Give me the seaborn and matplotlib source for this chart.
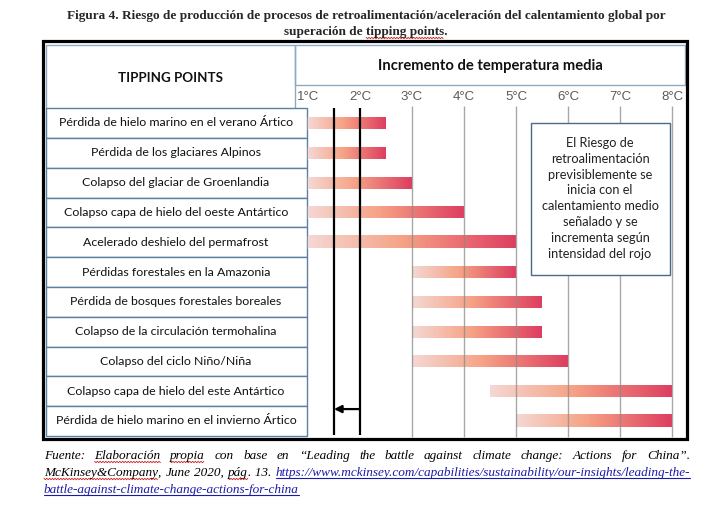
import numpy as np
import matplotlib
matplotlib.use('Agg')
import matplotlib.pyplot as plt
from matplotlib.colors import LinearSegmentedColormap
from matplotlib.patches import Rectangle
import seaborn as sns

# Data
tipping_points = [
    'Pérdida de hielo marino en el verano Ártico',
    'Pérdida de los glaciares Alpinos',
    'Colapso del glaciar de Groenlandia',
    'Colapso capa de hielo del oeste Antártico',
    'Acelerado deshielo del permafrost',
    'Pérdidas forestales en la Amazonia',
    'Pérdida de bosques forestales boreales',
    'Colapso de la circulación termohalina',
    'Colapso del ciclo Niño/Niña',
    'Colapso capa de hielo del este Antártico',
    'Pérdida de hielo marino en el invierno Ártico',
]
start_temp = [1.0, 1.0, 1.0, 1.0, 1.0, 3.0, 3.0, 3.0, 3.0, 4.5, 5.0]
end_temp = [2.5, 2.5, 3.0, 4.0, 5.0, 5.0, 5.5, 5.5, 6.0, 8.0, 8.0]
temp_ticks = [1, 2, 3, 4, 5, 6, 7, 8]
tick_labels = ['1°C', '2°C', '3°C', '4°C', '5°C', '6°C', '7°C', '8°C']
grid_temps = [3, 4, 5, 6, 7, 8]
paris_limits = [1.5, 2.0]

title_lines = [
    'Figura 4. Riesgo de producción de procesos de retroalimentación/aceleración del calentamiento global por',
    'superación de tipping points.',
]
note_lines = ['El Riesgo de', 'retroalimentación', 'previsiblemente se', 'inicia con el',
              'calentamiento medio', 'señalado y se', 'incrementa según', 'intensidad del rojo']
# (word, style): n = normal, s = spell-check underline, l = link
footer_lines = [
    [('Fuente:', 'n'), ('Elaboración', 's'), ('propia', 's'), ('con', 'n'), ('base', 'n'),
     ('en', 'n'), ('“Leading', 'n'), ('the', 'n'), ('battle', 'n'), ('against', 'n'),
     ('climate', 'n'), ('change:', 'n'), ('Actions', 'n'), ('for', 'n'), ('China”.', 'n')],
    [('McKinsey&Company', 's'), (',', 'n'), ('June', 'n'), ('2020,', 'n'), ('pág', 's'), ('. 13.', 'n'),
     ('https://www.mckinsey.com/capabilities/sustainability/our-insights/leading-the-', 'l')],
    [('battle-against-climate-change-actions-for-china', 'l')],
]

sns.set_theme(style='white')
plt.rcParams['font.family'] = ['Lato', 'DejaVu Sans']
serif = ['Liberation Serif', 'DejaVu Serif']

W, H = 714, 505
fig = plt.figure(figsize=(W / 100, H / 100), dpi=100)
fig.patch.set_facecolor('white')
bg = fig.add_axes([0, 0, 1, 1])
bg.set_xlim(0, W)
bg.set_ylim(H, 0)
bg.axis('off')
renderer = fig.canvas.get_renderer()


def width_px(s, size, **kw):
    t = bg.text(0, 0, s, fontsize=size, **kw)
    w = t.get_window_extent(renderer).width
    t.remove()
    return w


def fit(s, target, **kw):
    return 10 * target / width_px(s, 10, **kw)


def squiggle(x0, x1, y):
    xs = np.arange(x0, x1, 1.4)
    ys = y + np.where(np.arange(len(xs)) % 2 == 0, -0.7, 0.7)
    bg.plot(xs, ys, color='#d02020', lw=0.6)


# title
ts = fit(title_lines[0], 601, family=serif, weight='bold')
bg.text(366, 16, title_lines[0], ha='center', va='center', fontsize=ts, family=serif, weight='bold')
bg.text(366, 32, title_lines[1], ha='center', va='center', fontsize=ts, family=serif, weight='bold')
w2 = width_px(title_lines[1], ts, family=serif, weight='bold')
pre = width_px('superación de ', ts, family=serif, weight='bold')
sq0 = 366 - w2 / 2 + pre
squiggle(sq0, sq0 + width_px('tipping points', ts, family=serif, weight='bold'), 38)

# header boxes
head_col = '#8ea9c1'
bg.add_patch(Rectangle((46, 45), 249, 64, fill=False, ec=head_col, lw=1))
bg.add_patch(Rectangle((295, 45), 390, 40, fill=False, ec=head_col, lw=1))
hs = fit('TIPPING POINTS', 104, weight='bold')
bg.text(170, 78, 'TIPPING POINTS', ha='center', va='center', fontsize=hs, weight='bold', color='#111')
bg.text(490, 66, 'Incremento de temperatura media', ha='center', va='center',
        fontsize=fit('Incremento de temperatura media', 225, weight='bold'), weight='bold', color='#111')

# row label boxes
row_y0, row_h = 123.0, 29.8
ls = fit(max(tipping_points, key=len), 243)
for i, name in enumerate(tipping_points):
    yc = row_y0 + row_h * i
    bg.add_patch(Rectangle((46, yc - row_h / 2), 261, row_h, fc='white', ec='#5d7fa3', lw=1))
    bg.text(176, yc, name, ha='center', va='center', fontsize=ls, color='#111')

# chart axes
ax = fig.add_axes([295 / W, 1 - 438 / H, 390 / W, 334 / H])
ax.patch.set_alpha(0)
xlim = (1 + (295 - 308) / 52, 1 + (685 - 308) / 52)
ylim = ((438 - row_y0) / row_h, (104 - row_y0) / row_h)

cmap = LinearSegmentedColormap.from_list('risk', [(0, '#f4d8d4'), (0.45, '#f6a386'), (1, '#de3e60')])
grad = np.linspace(0, 1, 256).reshape(1, -1)
rows = np.arange(len(tipping_points))
bar_h = 12 / row_h
bars = ax.barh(rows, np.array(end_temp) - np.array(start_temp), left=start_temp,
               height=bar_h, color='none', zorder=2)
for p in bars.patches:
    x0, y0 = p.get_x(), p.get_y()
    ax.imshow(grad, cmap=cmap, aspect='auto', zorder=2,
              extent=[x0, x0 + p.get_width(), y0, y0 + p.get_height()])

ax.vlines(grid_temps, ylim[1] + 0.08, ylim[0] - 0.03, color='#8a8a8a', lw=1, alpha=0.75, zorder=3)
ax.vlines(paris_limits, ylim[1] + 0.12, ylim[0] - 0.1, color='black', lw=1.6, zorder=4)
ax.annotate('', xy=(paris_limits[0], 9.6), xytext=(paris_limits[1], 9.6),
            arrowprops=dict(arrowstyle='-|>', color='black', lw=1.6, mutation_scale=11,
                            shrinkA=0, shrinkB=0), zorder=4)

ax.set_xlim(*xlim)
ax.set_ylim(*ylim)
ax.xaxis.tick_top()
ax.set_xticks(temp_ticks, tick_labels)
ax.tick_params(axis='x', length=0, pad=1, labelsize=9.5, labelcolor='#5a5a5a')
for lab in ax.get_xticklabels():
    lab.set_family(['Liberation Sans', 'DejaVu Sans'])
ax.set_yticks([])
sns.despine(ax=ax, left=True, bottom=True, top=True, right=True)

# note box, on top of the grid lines
ax.add_patch(Rectangle((531, 123), 139, 152, fc='white', ec='#4d6a85', lw=1,
                       transform=bg.transData, clip_on=False, zorder=5))
ns = fit('calentamiento medio', 118)
for k, line in enumerate(note_lines):
    ax.text(600, 143 + 15.8 * k, line, ha='center', va='center', fontsize=ns, color='#222',
            transform=bg.transData, zorder=6)

# outer frame
bg.add_patch(Rectangle((43, 41), 644, 398, fill=False, ec='black', lw=2.3, zorder=10))

# footer, justified like the source
fs = fit(footer_lines[2][0][0], 258, family=serif, style='italic')
baselines = [459, 476, 493]
left, right = 44, 690
for li, words in enumerate(footer_lines):
    widths = [width_px(w, fs, family=serif, style='italic') for w, _ in words]
    # punctuation glued to the previous word
    glued = [w.startswith(',') or w.startswith('.') for w, _ in words]
    n_gaps = sum(1 for g in glued[1:] if not g)
    if li < 2:
        gap = (right - left - sum(widths)) / n_gaps
    else:
        gap = 0
    x = left
    for (w, st), wd, g in zip(words, widths, glued):
        if g:
            x -= gap
        col = '#1a1aa8' if st == 'l' else 'black'
        bg.text(x, baselines[li], w, ha='left', va='baseline', fontsize=fs, family=serif,
                style='italic', color=col)
        if st == 'l':
            bg.plot([x, x + wd], [baselines[li] + 2, baselines[li] + 2], color=col, lw=0.8)
        if st == 's':
            squiggle(x, x + wd, baselines[li] + 3)
        x += wd + gap

fig.savefig('out.png', dpi=100, facecolor='white')
